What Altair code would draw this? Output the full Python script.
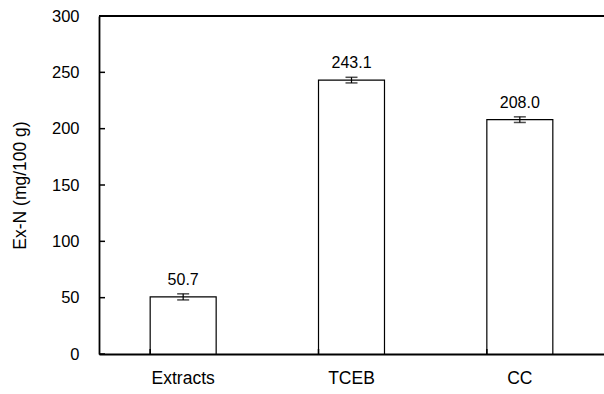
import altair as alt
import pandas as pd

categories = ["Extracts", "TCEB", "CC"]
values = [50.7, 243.1, 208.0]
errors = [2.7, 2.5, 2.5]
labels = ["50.7", "243.1", "208.0"]
y_ticks = [0, 50, 100, 150, 200, 250, 300]

W, H = 505, 338
FONT = "Liberation Sans"

df = pd.DataFrame({
    "cat": categories,
    "val": values,
    "lo": [v - e for v, e in zip(values, errors)],
    "hi": [v + e for v, e in zip(values, errors)],
    "lab": labels,
})
tick_df = pd.DataFrame({"t": y_ticks})

xscale = alt.Scale(domain=categories, paddingInner=0.608, paddingOuter=0.304)
yscale = alt.Scale(domain=[0, 300], nice=False, zero=True)

xenc = alt.X("cat:N", scale=xscale, sort=categories,
             axis=alt.Axis(title=None, labelAngle=0, ticks=False, labelPadding=15,
                           labelFontSize=17.5, labelColor="black", domainColor="black",
                           labelFont=FONT))
yenc = alt.Y("val:Q", scale=yscale,
             axis=alt.Axis(title="Ex-N (mg/100 g)", values=y_ticks, ticks=False, grid=False,
                           labelPadding=20, labelFontSize=16.5, labelColor="black",
                           domainColor="black", titleFontSize=17.5, titleFontWeight="normal",
                           titleColor="black", titlePadding=22, labelFont=FONT,
                           titleFont=FONT))

base = alt.Chart(df)
xc = alt.X("cat:N", scale=xscale, sort=categories)

bars = base.mark_bar(fill="white", stroke="black", strokeWidth=1.2).encode(x=xenc, y=yenc)

err = base.mark_rule(color="black", strokeWidth=1.2).encode(
    x=xc, y=alt.Y("lo:Q", scale=yscale), y2="hi:Q")
cap_lo = base.mark_tick(color="black", thickness=1.5, size=12, orient="horizontal").encode(
    x=xc, y=alt.Y("lo:Q", scale=yscale))
cap_hi = base.mark_tick(color="black", thickness=1.5, size=12, orient="horizontal").encode(
    x=xc, y=alt.Y("hi:Q", scale=yscale))

txt = base.mark_text(baseline="alphabetic", dy=-9, fontSize=16, font=FONT,
                     color="black").encode(
    x=xc, y=alt.Y("hi:Q", scale=yscale), text="lab:N")

xticks = base.mark_rule(color="black", strokeWidth=1.5).encode(
    x=alt.X("cat:N", scale=xscale, sort=categories, bandPosition=0),
    y=alt.value(H), y2=alt.value(H - 5))

yticks = alt.Chart(tick_df).mark_rule(color="black", strokeWidth=1.5).encode(
    y=alt.Y("t:Q", scale=yscale), x=alt.value(0), x2=alt.value(6))

top = alt.Chart(pd.DataFrame({"t": [300]})).mark_rule(color="black", strokeWidth=1.8).encode(
    y=alt.Y("t:Q", scale=yscale), x=alt.value(0), x2=alt.value(W))

chart = alt.layer(bars, err, cap_lo, cap_hi, txt, xticks, yticks, top).properties(
    width=W, height=H,
    autosize=alt.AutoSizeParams(type="none"),
    padding={"left": 99, "top": 16, "right": 0, "bottom": 40},
).configure_view(stroke=None).configure_axis(domainWidth=1.8)

chart.save("out.html", embed_options={"renderer": "svg", "actions": False})
